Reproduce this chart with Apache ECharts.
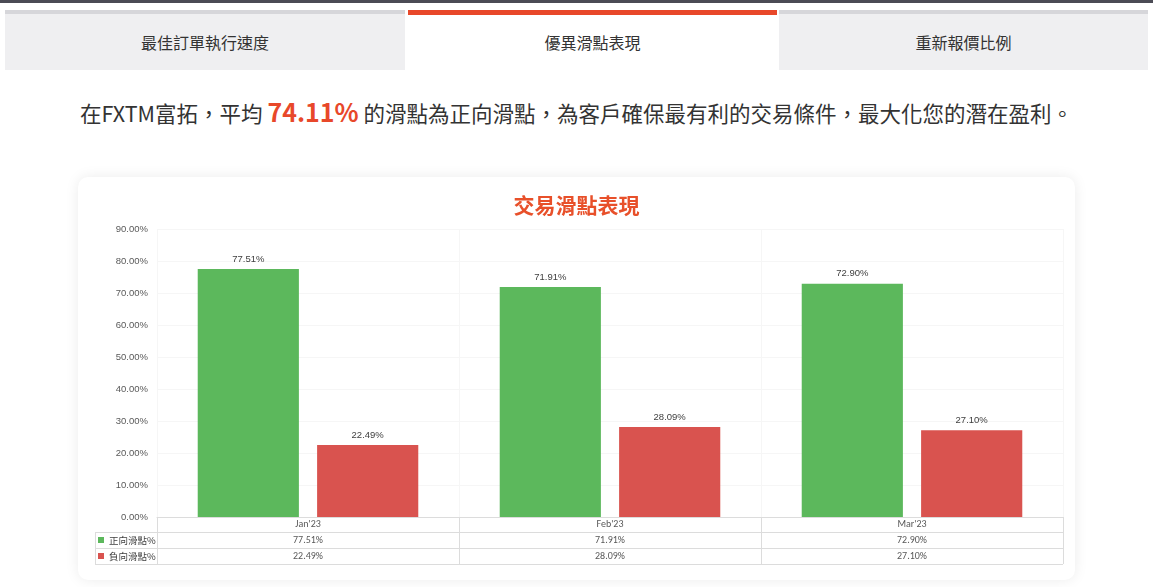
<!DOCTYPE html>
<html>
<head>
<meta charset="utf-8">
<script src="https://cdn.jsdelivr.net/npm/echarts@6/dist/echarts.min.js"></script>
<style>
  html, body { margin: 0; padding: 0; width: 1153px; height: 587px; overflow: hidden; background: #fff;
    font-family: "Noto Sans CJK TC", "Noto Sans", sans-serif; }
  .topbar { position: absolute; left: 0; top: 0; width: 1153px; height: 3px; background: #4b4b55; }
  .tab { position: absolute; top: 10px; height: 60px; box-sizing: border-box; border-top: 4px solid #d6d6da;
    background: #efeff1; color: #333; font-size: 16px; text-align: center; line-height: 56px; }
  .tab.active { background: #fff; border-top: 5px solid #e8482a; line-height: 55px; }
  .heading { position: absolute; left: 0; top: 93px; width: 1153px; text-align: center; font-size: 21.5px;
    color: #333; line-height: 36px; white-space: nowrap; }
  .heading b { color: #e8482a; font-size: 25px; font-weight: 700; }
  .card { position: absolute; left: 78px; top: 177px; width: 997px; height: 403px; background: #fff;
    border-radius: 10px; box-shadow: 0 0 14px rgba(0,0,0,0.08); }
  #chart { position: absolute; left: 0; top: 0; width: 1153px; height: 587px; }
</style>
</head>
<body>
<div class="topbar"></div>
<div class="tab" style="left:5px;width:400px;">最佳訂單執行速度</div>
<div class="tab active" style="left:408px;width:369px;">優異滑點表現</div>
<div class="tab" style="left:779px;width:369px;">重新報價比例</div>
<div class="heading">在FXTM富拓，平均 <b>74.11%</b> 的滑點為正向滑點，為客戶確保最有利的交易條件，最大化您的潛在盈利。</div>
<div class="card"></div>
<div id="chart"></div>
<script>
const categories = ["Jan'23", "Feb'23", "Mar'23"];
const seriesNames = ['正向滑點%', '負向滑點%'];
const positiveValues = [77.51, 71.91, 72.90];
const negativeValues = [22.49, 28.09, 27.10];
const yTicks = { min: 0, max: 90, interval: 10 };

const chart = echarts.init(document.getElementById('chart'), null, { renderer: 'canvas' });
const fmt = v => v.toFixed(2) + '%';
const lineColor = '#dcdcdc';
const hLine = (x1, x2, y) => ({ type: 'line', shape: { x1: x1, y1: y + 0.5, x2: x2, y2: y + 0.5 },
  style: { stroke: lineColor, lineWidth: 1 }, silent: true });
const vLine = (x, y1, y2) => ({ type: 'line', shape: { x1: x + 0.5, y1: y1, x2: x + 0.5, y2: y2 },
  style: { stroke: lineColor, lineWidth: 1 }, silent: true });

chart.setOption({
  backgroundColor: 'transparent',
  animation: false,
  title: {
    text: '交易滑點表現', left: 'center', top: 190,
    textStyle: { color: '#e8502a', fontSize: 21, fontWeight: 'bold', fontFamily: 'Noto Sans CJK TC' }
  },
  legend: {
    orient: 'vertical', left: 93, top: 527, itemWidth: 6, itemHeight: 6, itemGap: 0,
    icon: 'rect', data: seriesNames,
    textStyle: { fontSize: 9.5, color: '#404040', lineHeight: 16, fontFamily: 'Noto Sans CJK TC' }
  },
  grid: { left: 157, right: 90, top: 229, bottom: 70 },
  xAxis: {
    type: 'category', data: categories, boundaryGap: true,
    axisLine: { show: true, lineStyle: { color: lineColor } },
    axisTick: { show: true, length: 47, lineStyle: { color: lineColor } },
    splitLine: { show: true, lineStyle: { color: '#f6f6f6' } },
    axisLabel: {
      margin: -1, fontSize: 10, color: '#595959', lineHeight: 16, fontFamily: 'Carlito, "Liberation Sans", sans-serif',
      formatter: (v, i) => v + '\n' + fmt(positiveValues[i]) + '\n' + fmt(negativeValues[i])
    }
  },
  yAxis: {
    type: 'value', min: yTicks.min, max: yTicks.max, interval: yTicks.interval,
    axisLine: { show: false }, axisTick: { show: false },
    splitLine: { lineStyle: { color: '#f6f6f6' } },
    axisLabel: { formatter: v => v.toFixed(2) + '%', fontSize: 9.5, color: '#595959', margin: 9,
      fontFamily: '"Liberation Sans", sans-serif' }
  },
  series: [
    { name: seriesNames[0], type: 'bar', data: positiveValues, barWidth: '33.5%', barGap: '18%',
      itemStyle: { color: '#5cb85c' },
      label: { show: true, position: 'top', distance: 5, fontSize: 9.5, color: '#404040', formatter: p => fmt(p.value) } },
    { name: seriesNames[1], type: 'bar', data: negativeValues, barWidth: '33.5%', barGap: '18%',
      itemStyle: { color: '#d9534f' },
      label: { show: true, position: 'top', distance: 5, fontSize: 9.5, color: '#404040', formatter: p => fmt(p.value) } }
  ],
  graphic: [
    hLine(95, 1063, 532), hLine(95, 1063, 548), hLine(95, 1063, 564),
    vLine(95, 532, 565)
  ]
});
</script>
</body>
</html>
